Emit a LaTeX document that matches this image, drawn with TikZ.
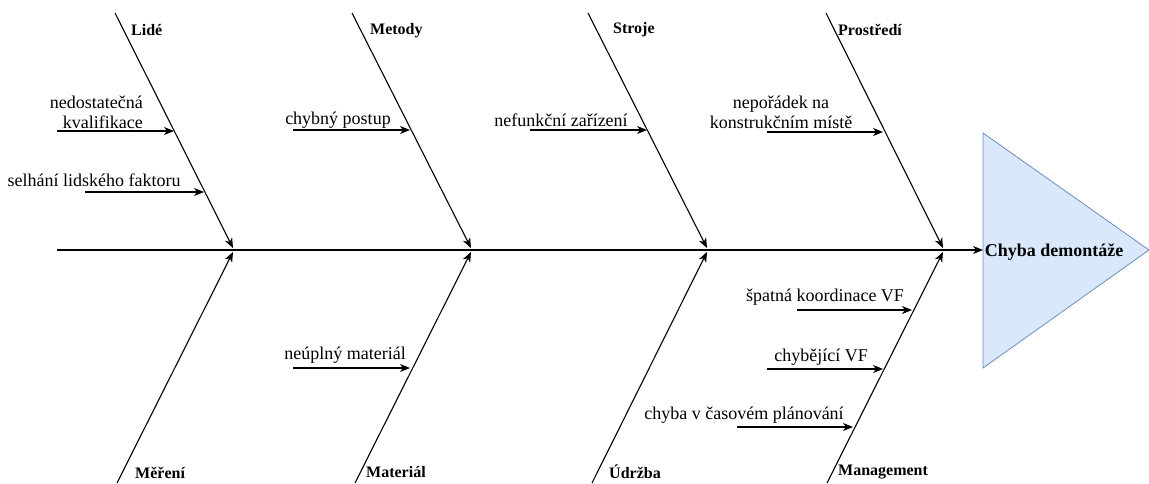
\documentclass[tikz,border=0pt]{standalone}
\usepackage{fontspec}
\setmainfont{Liberation Serif}
\usetikzlibrary{arrows.meta}
\definecolor{tfill}{HTML}{DAE8FC}
\definecolor{tline}{HTML}{6C8EBF}
\begin{document}
\begin{tikzpicture}[x=1pt,y=-1pt,
  line/.style={line width=1.1pt, draw=black},
  arr/.style={line, -{Stealth[length=10pt,width=8pt,inset=3pt]}},
  cat/.style={font=\fontsize{16}{18}\selectfont\bfseries, anchor=west, inner sep=0pt},
  cause/.style={font=\fontsize{18}{20}\selectfont, inner sep=0pt, align=center},
]
\useasboundingbox (0,0) rectangle (1149,483);

% effect triangle
\coordinate (tA) at (983,133);
\coordinate (tB) at (1149,250);
\coordinate (tC) at (983,368);
\draw[draw=tline, fill=tfill, line width=0.8pt] (tA) -- (tB) -- (tC) -- cycle;
\node[font=\fontsize{18}{20}\selectfont\bfseries, inner sep=0pt] (effect) at (1054,252) {Chyba demontáže};

% spine
\coordinate (tail) at (57,250);
\coordinate (head) at (983,250);
\draw[arr] (tail) -- (head);

% top branches
\coordinate (b1s) at (115,13);  \coordinate (b1e) at (233,248);
\coordinate (b2s) at (352,13);  \coordinate (b2e) at (471,248);
\coordinate (b3s) at (588,13);  \coordinate (b3e) at (707,248);
\coordinate (b4s) at (826,13);  \coordinate (b4e) at (943,248);
\draw[arr] (b1s) -- (b1e);
\draw[arr] (b2s) -- (b2e);
\draw[arr] (b3s) -- (b3e);
\draw[arr] (b4s) -- (b4e);
\node[cat] (lide) at (131,30) {Lidé};
\node[cat] (metody) at (370,31) {Metody};
\node[cat] (stroje) at (613,30) {Stroje};
\node[cat] (prostredi) at (838,30) {Prostředí};

% bottom branches
\coordinate (c1s) at (117,483); \coordinate (c1e) at (233,252);
\coordinate (c2s) at (355,483); \coordinate (c2e) at (471,252);
\coordinate (c3s) at (592,483); \coordinate (c3e) at (707,252);
\coordinate (c4s) at (827,483); \coordinate (c4e) at (943,252);
\draw[arr] (c1s) -- (c1e);
\draw[arr] (c2s) -- (c2e);
\draw[arr] (c3s) -- (c3e);
\draw[arr] (c4s) -- (c4e);
\node[cat] (mereni) at (135,473) {Měření};
\node[cat] (material) at (366,472) {Materiál};
\node[cat] (udrzba) at (609,472) {Údržba};
\node[cat] (management) at (838,472) {Management};

% causes: Lidé
\node[cause, align=right, anchor=east] (kval) at (143,112) {nedostatečná\\kvalifikace};
\coordinate (kvalS) at (57,131); \coordinate (kvalE) at (174,131);
\draw[arr] (kvalS) -- (kvalE);
\node[cause] (selh) at (94,180) {selhání lidského faktoru};
\coordinate (selhS) at (85,192); \coordinate (selhE) at (204,192);
\draw[arr] (selhS) -- (selhE);

% Metody
\node[cause] (postup) at (338,120) {chybný postup};
\coordinate (postupS) at (293,130); \coordinate (postupE) at (410,130);
\draw[arr] (postupS) -- (postupE);

% Stroje
\node[cause] (zariz) at (561,120) {nefunkční zařízení};
\coordinate (zarizS) at (530,130); \coordinate (zarizE) at (647,130);
\draw[arr] (zarizS) -- (zarizE);

% Prostředí
\node[cause] (nepor) at (781,112) {nepořádek na\\konstrukčním místě};
\coordinate (neporS) at (767,132); \coordinate (neporE) at (883,132);
\draw[arr] (neporS) -- (neporE);

% Materiál
\node[cause] (neupl) at (345,355) {neúplný materiál};
\coordinate (neuplS) at (293,368); \coordinate (neuplE) at (410,368);
\draw[arr] (neuplS) -- (neuplE);

% Management
\node[cause] (koord) at (825,297) {špatná koordinace VF};
\coordinate (koordS) at (797,310); \coordinate (koordE) at (912,310);
\draw[arr] (koordS) -- (koordE);
\node[cause] (chybVF) at (821,357) {chybějící VF};
\coordinate (chybVFS) at (767,369); \coordinate (chybVFE) at (883,369);
\draw[arr] (chybVFS) -- (chybVFE);
\node[cause] (plan) at (744,415) {chyba v časovém plánování};
\coordinate (planS) at (737,427); \coordinate (planE) at (853,427);
\draw[arr] (planS) -- (planE);
\end{tikzpicture}
\end{document}
